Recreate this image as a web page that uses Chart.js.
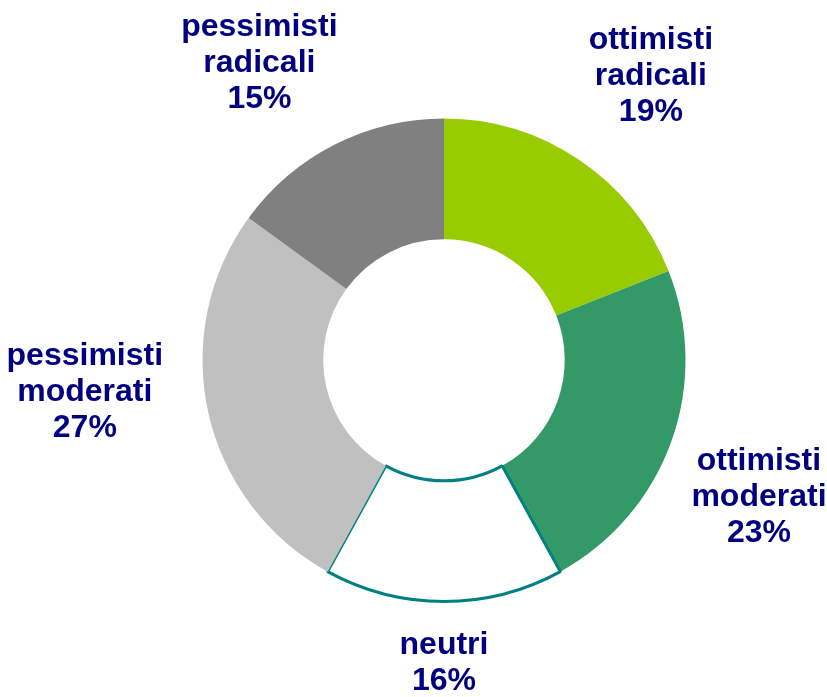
<!DOCTYPE html>
<html>
<head>
    <title>Ottimisti e pessimisti</title>
    <script src="https://cdn.jsdelivr.net/npm/chart.js"></script>
    <style>
        html, body { margin: 0; padding: 0; background: #ffffff; }
        #wrap { width: 827px; height: 697px; }
    </style>
</head>
<body>
    <div id="wrap"><canvas id="donutChart" width="827" height="697"></canvas></div>
    <script>
        // categories, clockwise from the top
        const categories = [
            ['ottimisti', 'radicali'],
            ['ottimisti', 'moderati'],
            ['neutri'],
            ['pessimisti', 'moderati'],
            ['pessimisti', 'radicali']
        ];
        const shares = [19, 23, 16, 27, 15];
        const sliceColors = ['#99cc00', '#339966', '#ffffff', '#c0c0c0', '#808080'];
        const sliceBorders = ['#99cc00', '#339966', '#008080', '#c0c0c0', '#808080'];
        const sliceBorderWidths = [0, 0, 3, 0, 0];

        // draws the labels outside the ring, along each slice's middle angle
        const outsideLabels = {
            id: 'outsideLabels',
            afterDatasetsDraw(chart, args, opts) {
                const ctx = chart.ctx;
                const meta = chart.getDatasetMeta(0);
                const lineHeight = 36;
                const gap = 22;
                ctx.save();
                ctx.font = 'bold 32px "Liberation Sans", Arial, sans-serif';
                ctx.fillStyle = '#000080';
                ctx.textAlign = 'center';
                ctx.textBaseline = 'middle';
                meta.data.forEach((arc, i) => {
                    const lines = categories[i].concat([shares[i] + '%']);
                    const w = Math.max(...lines.map(l => ctx.measureText(l).width));
                    const h = lines.length * lineHeight;
                    const mid = (arc.startAngle + arc.endAngle) / 2;
                    const cos = Math.cos(mid), sin = Math.sin(mid);
                    const half = Math.abs(cos) * w / 2 + Math.abs(sin) * h / 2;
                    const d = arc.outerRadius + gap + half;
                    const nudge = (opts.nudge && opts.nudge[i]) || [0, 0];
                    const cx = arc.x + d * cos + nudge[0];
                    const cy = arc.y + d * sin + nudge[1];
                    lines.forEach((line, j) => {
                        ctx.fillText(line, cx, cy - h / 2 + lineHeight * (j + 0.5));
                    });
                });
                ctx.restore();
            }
        };

        const ctx1 = document.getElementById('donutChart').getContext('2d');
        new Chart(ctx1, {
            type: 'doughnut',
            data: {
                labels: categories.map(c => c.join(' ')),
                datasets: [{
                    data: shares,
                    backgroundColor: sliceColors,
                    borderColor: sliceBorders,
                    borderWidth: sliceBorderWidths,
                    hoverOffset: 0
                }]
            },
            options: {
                responsive: false,
                animation: false,
                cutout: '50%',
                layout: {
                    padding: { left: 201, top: 117, right: 140, bottom: 94 }
                },
                plugins: {
                    legend: { display: false },
                    tooltip: { enabled: false },
                    outsideLabels: {
                        // hand placement, like the original labels
                        nudge: [[14, 0], [-10, 20], [0, 4], [-16, -45], [-27, 12]]
                    }
                }
            },
            plugins: [outsideLabels]
        });
    </script>
</body>
</html>
